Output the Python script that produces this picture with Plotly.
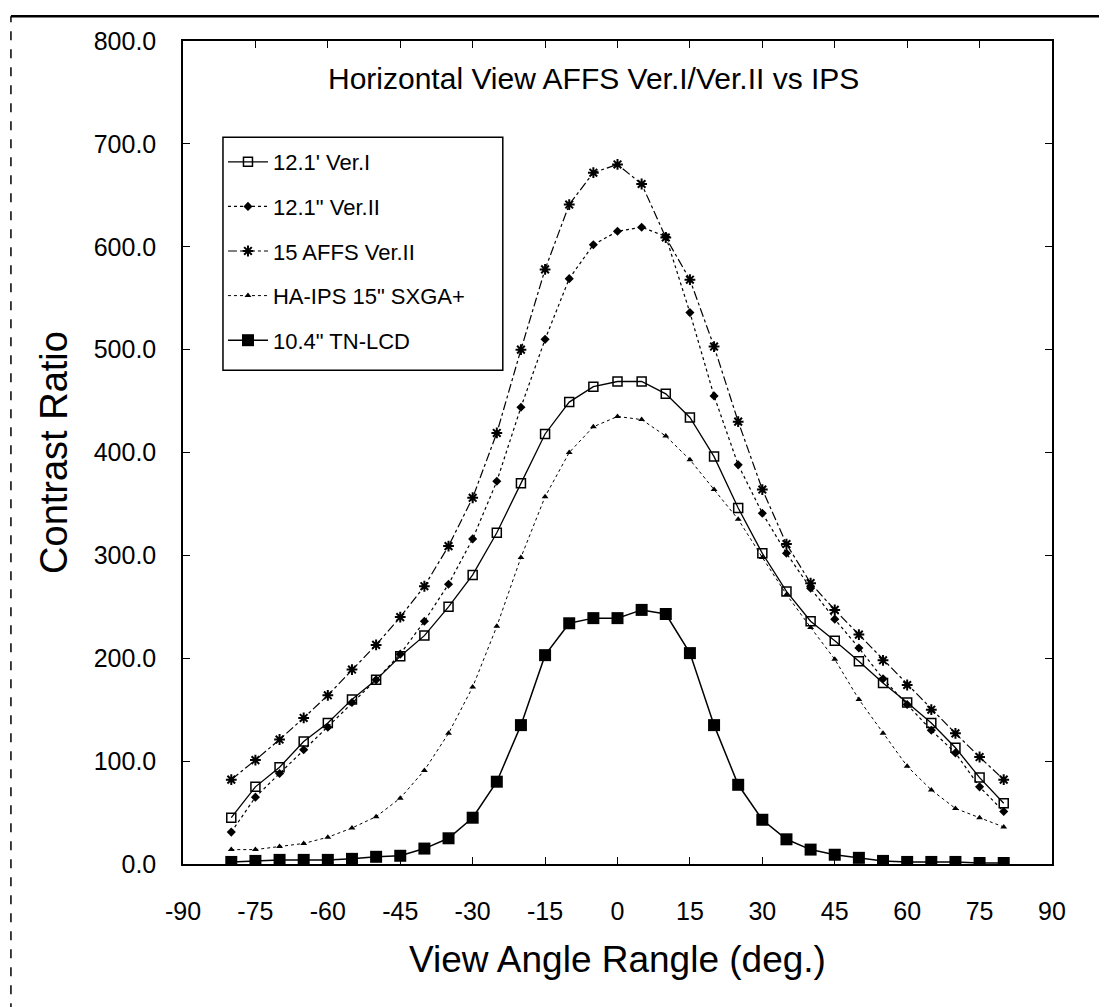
import plotly.graph_objects as go

angles = list(range(-80, 85, 5))

ver1_121 = [45, 75, 94, 119, 137, 160, 179, 202, 222, 250, 281, 322, 370, 418, 449, 464, 469,
            469, 457, 434, 396, 346, 302, 265, 236, 217, 197, 176, 157, 137, 113, 84, 59]
ver2_121 = [31, 65, 88, 111, 133, 157, 179, 204, 236, 272, 316, 372, 444, 510, 569, 602, 615,
            619, 610, 536, 455, 388, 341, 302, 268, 238, 210, 180, 155, 130, 108, 75, 51]
affs15_ver2 = [82, 101, 121, 142, 164, 189, 213, 240, 270, 309, 356, 419, 500, 578, 641, 672, 680,
               661, 609, 568, 503, 430, 364, 311, 273, 247, 223, 198, 174, 150, 127, 104, 82]
haips15 = [14, 14, 17, 20, 26, 35, 46, 64, 91, 127, 172, 231, 298, 357, 400, 425, 435,
           432, 416, 393, 364, 335, 298, 262, 230, 199, 160, 127, 95, 72, 54, 45, 36]
tn104 = [2, 3, 4, 4, 4, 5, 7, 8, 15, 25, 45, 80, 135, 203, 234, 239, 239,
         247, 243, 205, 135, 77, 43, 24, 14, 9, 6, 3, 2, 2, 2, 1, 1]

names = ["12.1' Ver.I", '12.1" Ver.II', "15 AFFS Ver.II", 'HA-IPS 15" SXGA+', '10.4" TN-LCD']

x_ticks = list(range(-90, 91, 15))
y_ticks = list(range(0, 801, 100))

FONT = "Liberation Sans, Arial, sans-serif"

series = [
    (names[0], ver1_121, dict(dash="solid", width=1.3), dict(symbol="square-open", size=9, color="black", line=dict(width=1.5, color="black"))),
    (names[1], ver2_121, dict(dash="dot", width=1.2), dict(symbol="diamond", size=7, color="black")),
    (names[2], affs15_ver2, dict(dash="dashdot", width=1.2), dict(symbol="asterisk-open", size=9, color="black", line=dict(width=2, color="black"))),
    (names[3], haips15, dict(dash="dot", width=1.0), dict(symbol="triangle-up", size=6, color="black")),
    (names[4], tn104, dict(dash="solid", width=1.5), dict(symbol="square", size=12, color="black")),
]

fig = go.Figure()
for i, (nm, ys, ln, mk) in enumerate(series):
    fig.add_trace(go.Scatter(
        x=angles, y=ys, name=nm, mode="lines+markers",
        line=dict(color="black", **ln), marker=mk, legendgroup=f"g{i}",
    ))

axis_common = dict(
    showline=True, linecolor="black", linewidth=1.5, mirror="ticks",
    ticks="inside", ticklen=7, tickcolor="black", tickwidth=1,
    showgrid=False, zeroline=False,
    tickfont=dict(family=FONT, size=25, color="black"),
)

# page body has an 8px margin, so margins are reduced by 8 to keep the plot area in place
fig.update_layout(
    width=1107, height=1007,
    margin=dict(l=175, r=63, t=33, b=151),
    paper_bgcolor="white", plot_bgcolor="white",
    showlegend=True,
    legend=dict(
        x=0.046, y=0.8785, xanchor="left", yanchor="top",
        borderwidth=0, bgcolor="rgba(0,0,0,0)",
        font=dict(family=FONT, size=22, color="black"),
        traceorder="grouped", tracegroupgap=13,
        itemwidth=40,
    ),
    xaxis=dict(range=[-90, 90], tickvals=x_ticks, ticktext=[str(v) for v in x_ticks],
               title=dict(text="View Angle Rangle (deg.)", font=dict(family=FONT, size=37, color="black"), standoff=22),
               ticklabelstandoff=24, **axis_common),
    yaxis=dict(range=[0, 800], tickvals=y_ticks, ticktext=[f"{v:.1f}" for v in y_ticks],
               title=dict(text="Contrast Ratio", font=dict(family=FONT, size=38, color="black"), standoff=14),
               ticklabelstandoff=20, **axis_common),
    annotations=[dict(
        text="Horizontal View AFFS Ver.I/Ver.II vs IPS", xref="paper", yref="paper",
        x=0.472, y=0.955, xanchor="center", yanchor="middle", showarrow=False,
        font=dict(family=FONT, size=30, color="black"),
    )],
    shapes=[
        dict(type="line", xref="paper", yref="paper",
             x0=-0.198, x1=1.07, y0=1.030, y1=1.030,
             line=dict(color="black", width=2.5)),
        dict(type="line", xref="paper", yref="paper",
             x0=-0.198, x1=-0.198, y0=-0.18, y1=1.030,
             line=dict(color="black", width=1.5, dash="dash")),
        dict(type="rect", xref="paper", yref="paper",
             x0=0.046, x1=0.368, y0=0.600, y1=0.883,
             line=dict(color="black", width=1.5)),
    ],
)

fig.write_html("out.html")
